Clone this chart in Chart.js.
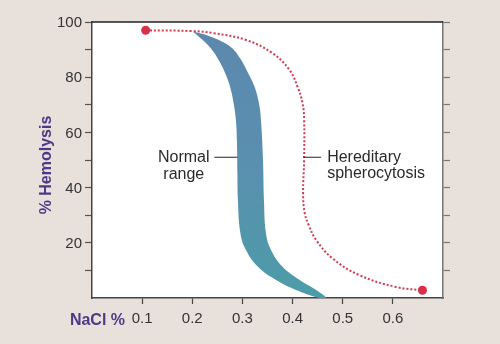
<!DOCTYPE html>
<html><head><meta charset="utf-8">
<script src="https://cdn.jsdelivr.net/npm/chart.js@4/dist/chart.umd.min.js"></script>
<style>html,body{margin:0;padding:0;background:#e8e0da;}#wrap{width:500px;height:344px;position:relative;}</style>
</head><body><div id="wrap"><canvas id="c" width="500" height="344"></canvas></div>
<script>
// Hereditary spherocytosis curve (NaCl %, % hemolysis)
const hsX = [0.107, 0.20, 0.241, 0.307, 0.36, 0.394, 0.41, 0.42, 0.423, 0.423, 0.421, 0.424, 0.432, 0.447, 0.48, 0.533, 0.606, 0.659];
const hsY = [97.0, 96.7, 96.0, 93.5, 88.7, 82.6, 76.5, 70.5, 64.5, 50, 38, 31, 26.5, 21, 14.3, 8.3, 4.0, 2.8];
// Normal range band: left (upper) edge, top to bottom
const normLeftX = [0.201, 0.223, 0.241, 0.256, 0.268, 0.277, 0.283, 0.287, 0.289, 0.290, 0.291, 0.296, 0.307, 0.331, 0.367, 0.407, 0.453];
const normLeftY = [96.6, 93.1, 89.5, 85.1, 80.4, 75.4, 69.9, 64.5, 57.2, 45, 35.4, 23.4, 17.4, 11.3, 6.5, 2.9, 0];
// Normal range band: right (lower) edge, top to bottom
const normRightX = [0.225, 0.255, 0.279, 0.296, 0.310, 0.324, 0.333, 0.337, 0.341, 0.343, 0.347, 0.357, 0.38, 0.414, 0.447, 0.467];
const normRightY = [95.5, 93.3, 90.6, 86.7, 82.0, 76.6, 70.5, 64.5, 50, 35, 23.4, 17.4, 11.3, 6.5, 2.9, 0];
// Ticks
const xTickValues = [0.1, 0.2, 0.3, 0.4, 0.5, 0.6];
const yTickValues = [10, 20, 30, 40, 50, 60, 70, 80, 90, 100];
const yTickLabels = ['20', '40', '60', '80', '100'];

const hsData = hsX.map((x, i) => ({x, y: hsY[i]}));
const bandData = normLeftX.map((x, i) => ({x, y: normLeftY[i]}))
  .concat(normRightX.map((x, i) => ({x, y: normRightY[i]})).reverse());

const FONT = '"Liberation Sans", Arial, sans-serif';
const purple = '#4b3a86';

const deco = {
  id: 'deco',
  beforeDraw(chart) {
    const {ctx, chartArea: a} = chart;
    ctx.save();
    ctx.fillStyle = '#ffffff';
    ctx.fillRect(a.left, a.top, a.right - a.left, a.bottom - a.top);
    ctx.restore();
  },
  afterDraw(chart) {
    const {ctx, chartArea: a, scales} = chart;
    const X = v => scales.x.getPixelForValue(v);
    const Y = v => scales.y.getPixelForValue(v);
    ctx.save();
    ctx.strokeStyle = '#222';
    ctx.lineWidth = 1.5;
    ctx.beginPath(); ctx.moveTo(a.left, a.top); ctx.lineTo(a.right, a.top); ctx.stroke();
    ctx.fillStyle = '#2a2a2a';
    ctx.font = '16px ' + FONT;
    ctx.textBaseline = 'alphabetic';
    ctx.textAlign = 'center';
    ctx.fillText('Normal', X(0.183), Y(49.4));
    ctx.fillText('range', X(0.183), Y(43.0));
    ctx.textAlign = 'left';
    ctx.fillText('Hereditary', X(0.469), Y(49.4));
    ctx.fillText('spherocytosis', X(0.469), Y(43.3));
    ctx.strokeStyle = '#222';
    ctx.lineWidth = 1;
    ctx.beginPath();
    ctx.moveTo(X(0.244), Y(51)); ctx.lineTo(X(0.29), Y(51));
    ctx.moveTo(X(0.421), Y(51)); ctx.lineTo(X(0.457), Y(51));
    ctx.stroke();
    ctx.fillStyle = purple;
    ctx.font = 'bold 16px ' + FONT;
    ctx.textAlign = 'right';
    ctx.fillText('NaCl %', 125, 324.5);
    ctx.translate(50.5, 165);
    ctx.rotate(-Math.PI / 2);
    ctx.textAlign = 'center';
    ctx.fillText('% Hemolysis', 0, 0);
    ctx.restore();
  }
};

new Chart(document.getElementById('c'), {
  type: 'line',
  data: {
    datasets: [
      {
        label: 'Hereditary spherocytosis',
        data: hsData,
        borderColor: '#d6384e',
        borderWidth: 2,
        borderDash: [2, 2],
        tension: 0.4,
        fill: false,
        pointRadius: c => (c.dataIndex === 0 || c.dataIndex === hsData.length - 1) ? 4.5 : 0,
        pointBackgroundColor: '#d9304a',
        pointBorderWidth: 0,
        order: 0
      },
      {
        label: 'Normal range',
        data: bandData,
        borderWidth: 0,
        borderColor: 'rgba(0,0,0,0)',
        pointRadius: 0,
        tension: 0.4,
        fill: 'shape',
        backgroundColor: c => {
          const a = c.chart.chartArea;
          if (!a) return '#5a8dab';
          const g = c.chart.ctx.createLinearGradient(0, a.top, 0, a.bottom);
          g.addColorStop(0, '#5c88ae');
          g.addColorStop(0.5, '#5a8fae');
          g.addColorStop(1, '#4c9ca9');
          return g;
        },
        order: 1
      }
    ]
  },
  options: {
    responsive: false,
    animation: false,
    layout: {padding: {top: 22, left: 0, right: 0, bottom: 0}},
    plugins: {legend: {display: false}, tooltip: {enabled: false}},
    scales: {
      x: {
        type: 'linear', position: 'bottom', min: 0, max: 0.7,
        afterFit: s => { s.height = 46; },
        afterBuildTicks: s => { s.ticks = xTickValues.map(v => ({value: v})); },
        ticks: {callback: v => v.toFixed(1), font: {size: 15, family: FONT}, color: '#333', padding: 6, maxRotation: 0, autoSkip: false},
        grid: {drawOnChartArea: false, drawTicks: true, tickLength: 6, tickColor: '#444', tickWidth: 1.2},
        border: {color: '#444', width: 1.5}
      },
      y: {
        type: 'linear', position: 'left', min: 0, max: 100,
        afterFit: s => { s.width = 92; },
        afterBuildTicks: s => { s.ticks = yTickValues.map(v => ({value: v})); },
        ticks: {callback: v => yTickLabels.includes(String(v)) ? String(v) : '', font: {size: 15, family: FONT}, color: '#333', padding: 3, autoSkip: false, labelOffset: 1},
        grid: {drawOnChartArea: false, drawTicks: true, tickLength: 7, tickColor: '#555', tickWidth: 1.2},
        border: {color: '#444', width: 1.5}
      },
      y2: {
        type: 'linear', position: 'right', min: 0, max: 100,
        afterFit: s => { s.width = 57; },
        afterBuildTicks: s => { s.ticks = yTickValues.map(v => ({value: v})); },
        ticks: {callback: () => '', autoSkip: false},
        grid: {drawOnChartArea: false, drawTicks: true, tickLength: 7, tickColor: '#777', tickWidth: 1.2},
        border: {color: '#777', width: 1.5}
      }
    }
  },
  plugins: [deco]
});
</script>
</body></html>
